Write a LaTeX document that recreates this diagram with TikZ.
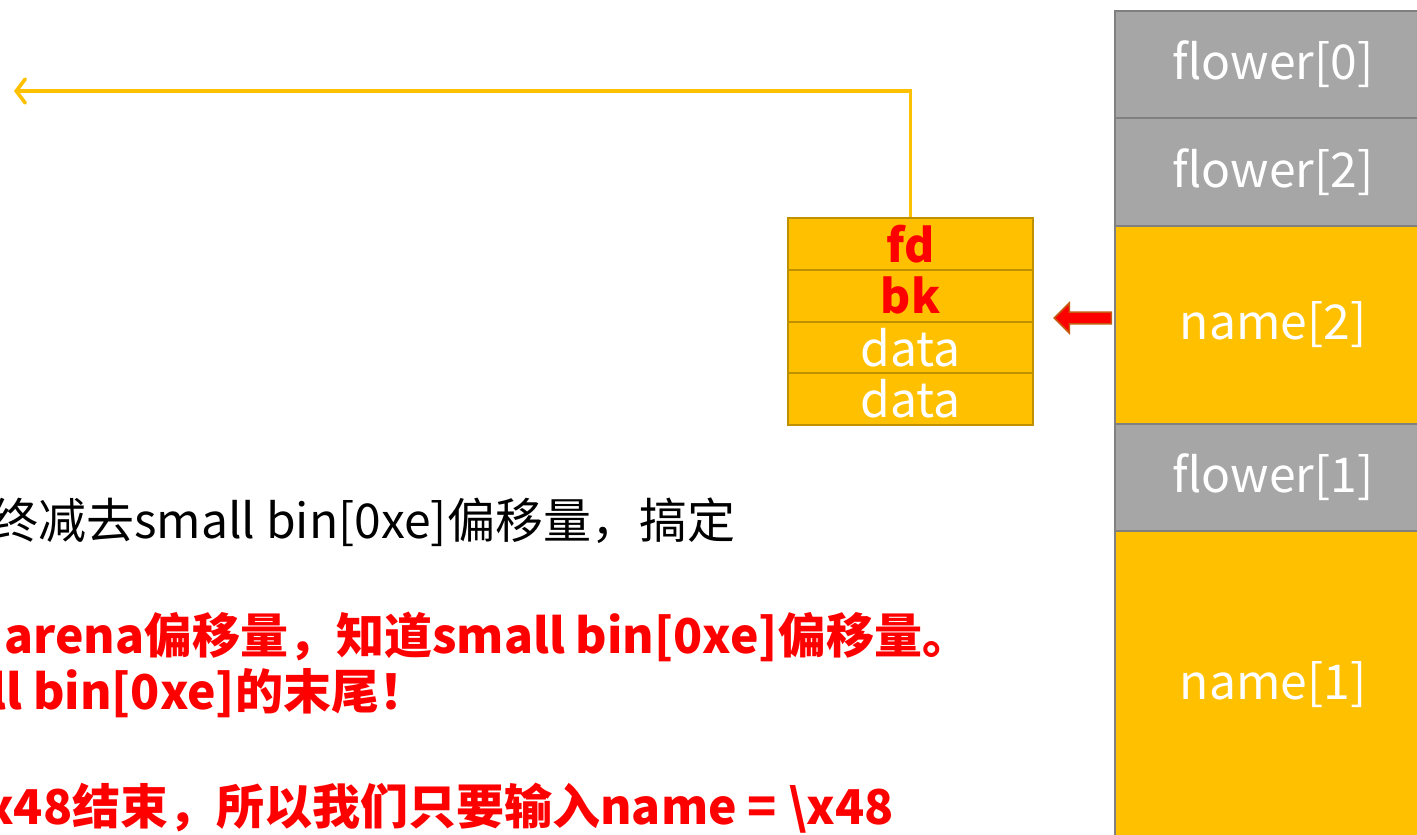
\documentclass[tikz,border=0pt]{standalone}
\usepackage{fontspec}
\setmainfont{Noto Sans CJK SC}
\usetikzlibrary{arrows.meta,shapes.arrows}
\definecolor{gold}{HTML}{FFC000}
\definecolor{goldborder}{HTML}{BF9000}
\definecolor{cellgray}{HTML}{A6A6A6}
\definecolor{grayborder}{HTML}{808080}
\definecolor{arrowborder}{HTML}{C55A11}
\tikzset{
  cell/.style={draw=grayborder, line width=2pt, anchor=north west, inner sep=0pt,
    minimum width=316pt, text=white, font=\fontsize{48}{54}\selectfont},
  graycell/.style={cell, fill=cellgray},
  goldcell/.style={cell, fill=gold},
  chunkcell/.style={draw=goldborder, line width=2pt, fill=gold, anchor=north west,
    inner sep=0pt, minimum width=245pt, minimum height=51.75pt,
    font=\fontsize{48}{54}\selectfont},
  ptr/.style={text=red, font=\fontsize{46}{52}\selectfont\bfseries},
  dat/.style={text=white},
  goldline/.style={draw=gold, line width=3.6pt},
  note/.style={anchor=west, inner sep=0pt, font=\fontsize{48}{56}\selectfont},
  rednote/.style={note, text=red, font=\fontsize{48}{56}\selectfont\bfseries},
}
\begin{document}
\begin{tikzpicture}[x=1pt,y=-1pt]
\useasboundingbox (0,0) rectangle (1417,835);
% right column
\node[graycell, minimum height=107pt] (f0) at (1114,10) {flower[0]};
\node[graycell, minimum height=108pt] (f2) at (1114,117) {flower[2]};
\node[goldcell, minimum height=198pt] (n2) at (1114,225) {name[2]};
\node[graycell, minimum height=107pt] (f1) at (1114,423) {flower[1]};
\node[goldcell, minimum height=308pt] (n1) at (1114,530) {name[1]};
% chunk
\node[chunkcell, ptr] (fd) at (787,217) {fd};
\node[chunkcell, ptr] (bk) at (787,268.75) {bk};
\node[chunkcell, dat] (d1) at (787,320.5) {data};
\node[chunkcell, dat] (d2) at (787,372.25) {data};
% yellow pointer
\coordinate (fdend) at (14,91);
\draw[goldline, -{Straight Barb[length=9pt,width=24pt,line cap=round]}] (fd.north) |- (fdend);
% red block arrow
\node[single arrow, draw=arrowborder, line width=1.5pt, fill=red, inner xsep=0pt, inner ysep=5pt,
  minimum height=57pt, minimum width=30pt, single arrow head extend=9pt,
  shape border rotate=180, anchor=tail] (ra) at (1112,318) {};
% notes
\node[note] (t1) at (-10,522) {终减去small bin[0xe]偏移量，搞定};
\node[rednote] (t2) at (4,637) {arena偏移量，知道small bin[0xe]偏移量。};
\node[rednote] (t3) at (-10,693) {ll bin[0xe]的末尾！};
\node[rednote] (t4) at (-15,808) {x48结束，所以我们只要输入name = \textbackslash x48};
\end{tikzpicture}
\end{document}
